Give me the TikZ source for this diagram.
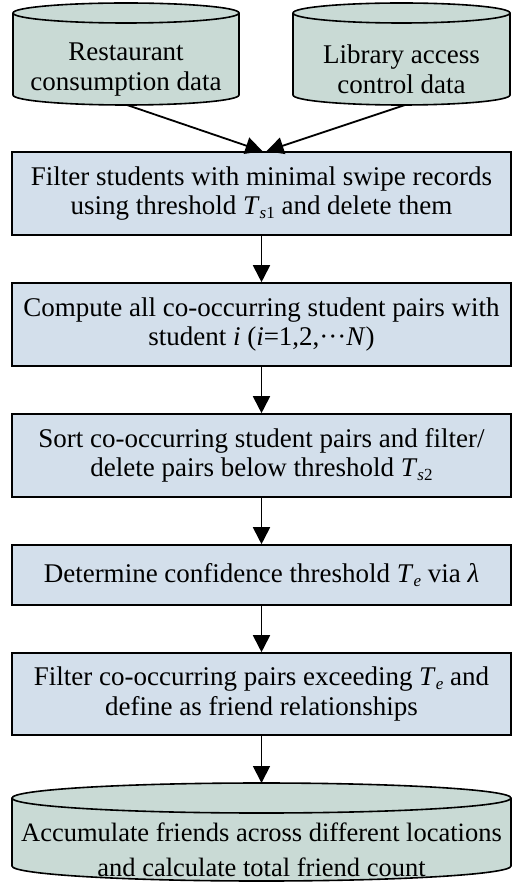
\documentclass[tikz,border=0pt]{standalone}
\usepackage{fontspec}
\setmainfont{Liberation Serif}
\usetikzlibrary{arrows.meta}
\definecolor{cylfill}{HTML}{C9DAD5}
\definecolor{boxfill}{HTML}{D3DFEB}
\newcommand\lsub[1]{\raisebox{-0.3ex}{\fontsize{17}{17}\selectfont #1}}
% left, right, top ellipse centre y, bottom ellipse centre y, rx, ry
\newcommand\drawcyl[6]{%
  \filldraw[fill=cylfill,draw=black,line width=1.6pt]
    (#1,-#3) -- (#1,-#4) arc[start angle=180,end angle=360,x radius=#5pt,y radius=#6pt]
    -- (#2,-#3) arc[start angle=0,end angle=180,x radius=#5pt,y radius=#6pt] -- cycle;
  \draw[line width=1.6pt] (#1,-#3) arc[start angle=180,end angle=360,x radius=#5pt,y radius=#6pt];}
\begin{document}
\begin{tikzpicture}[x=1pt,y=1pt,
  box/.style={draw,fill=boxfill,line width=1.6pt,minimum width=499pt,minimum height=83pt,
    align=center,inner sep=0pt,font=\fontsize{27}{29.5}\selectfont},
  lbl/.style={align=center,inner sep=0pt,font=\fontsize{27}{30.5}\selectfont},
  arr/.style={line width=1.8pt,-{Triangle[length=17pt,width=17pt]}}]
\useasboundingbox (0,0) rectangle (512,-882);
% data cylinders
\drawcyl{13}{239}{13}{95}{113}{10}
\drawcyl{293}{510}{13}{95}{108.5}{10}
\node[lbl] (c1) at (126,-69.5) {Restaurant\\consumption data};
\node[lbl] (c2) at (401.5,-69.5) {Library access\\control data};
\coordinate (c1b) at (127,-105);
\coordinate (c2b) at (405,-105);
% process boxes
\node[box] (b1) at (261.5,-193.5) {Filter students with minimal swipe records\\using threshold \textit{T}\lsub{\textit{s}1} and delete them};
\node[box] (b2) at (261.5,-324.5) {Compute all co-occurring student pairs with\\student \textit{i} (\textit{i}=1,2,···\textit{N})};
\node[box] (b3) at (261.5,-455.5) {Sort co-occurring student pairs and filter/\\delete pairs below threshold \textit{T}\lsub{\textit{s}2}};
\node[box,minimum height=60pt] (b4) at (261.5,-575) {Determine confidence threshold \textit{T}\lsub{\textit{e}} via \textit{λ}};
\node[box,minimum height=82pt] (b5) at (261.5,-694) {Filter co-occurring pairs exceeding \textit{T}\lsub{\textit{e}} and\\define as friend relationships};
% result cylinder
\drawcyl{12}{511}{798}{866}{249.5}{15}
\coordinate (c3t) at (261.5,-783);
\node[lbl,font=\fontsize{26.5}{35}\selectfont] (c3) at (261.5,-850) {Accumulate friends across different locations\\and calculate total friend count};
% connectors
\draw[arr] (c1b) -- ([xshift=1pt]b1.north);
\draw[arr] (c2b) -- ([xshift=5pt]b1.north);
\draw[arr] (b1) -- (b2);
\draw[arr] (b2) -- (b3);
\draw[arr] (b3) -- (b4);
\draw[arr] (b4) -- (b5);
\draw[arr] (b5) -- (c3t);
\end{tikzpicture}
\end{document}
